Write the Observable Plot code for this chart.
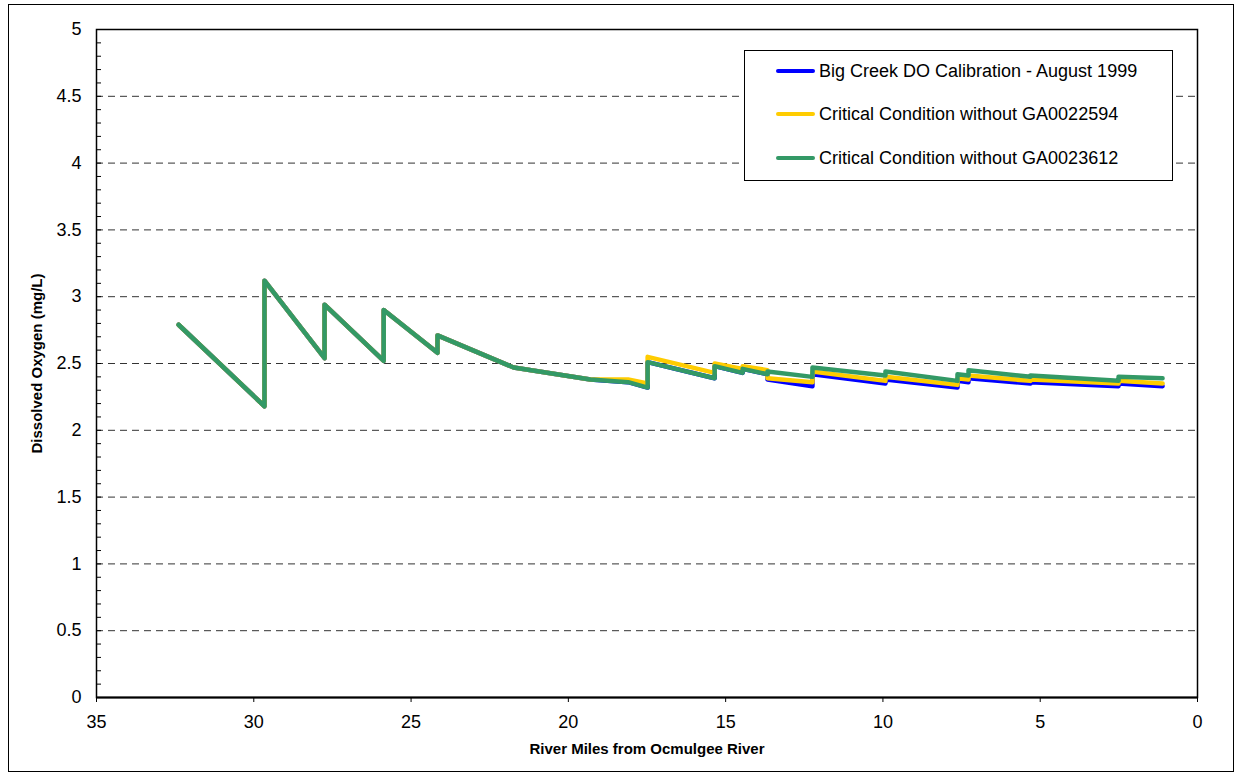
<!DOCTYPE html>
<html>
<head>
<meta charset="utf-8">
<script src="https://cdn.jsdelivr.net/npm/d3@7"></script>
<script src="https://cdn.jsdelivr.net/npm/@observablehq/plot@0.6"></script>
<style>
  html, body { margin: 0; padding: 0; background: #fff; }
  #wrap { position: relative; width: 1238px; height: 776px; overflow: hidden; font-family: "Liberation Sans", Arial, sans-serif; }
  #border { position: absolute; left: 8px; top: 4px; width: 1224px; height: 766px; border: 1.5px solid #000; pointer-events: none; }
  #legend { position: absolute; left: 744px; top: 50px; width: 427px; height: 129px; border: 1.5px solid #000; background: #fff; }
  .item { position: absolute; left: 31px; height: 22px; display: flex; align-items: center; font-size: 18px; color: #000; white-space: nowrap; }
  .sw { width: 39px; height: 4.5px; border-radius: 2px; margin-right: 4px; }
</style>
</head>
<body>
<div id="wrap">
  <div id="chart"></div>
  <div id="border"></div>
  <div id="legend"></div>
</div>
<script>
// Series names and colours
const seriesNames = [
  "Big Creek DO Calibration - August 1999",
  "Critical Condition without GA0022594",
  "Critical Condition without GA0023612"
];
const seriesColors = ["#0000FF", "#FFCC00", "#339966"];

// Calibration (blue)
const calMiles = [32.39, 29.66, 29.66, 27.75, 27.75, 25.87, 25.87, 24.16, 24.16, 21.74, 19.3, 18.1, 17.48, 17.48, 15.35, 15.35, 14.46, 14.46, 13.67, 13.67, 12.24, 12.24, 9.92, 9.92, 7.63, 7.63, 7.28, 7.28, 5.31, 5.31, 2.51, 2.51, 1.11];
const calDO    = [2.79, 2.18, 3.12, 2.54, 2.94, 2.52, 2.90, 2.58, 2.71, 2.47, 2.38, 2.36, 2.32, 2.51, 2.39, 2.48, 2.43, 2.46, 2.42, 2.38, 2.33, 2.42, 2.35, 2.38, 2.32, 2.37, 2.36, 2.39, 2.35, 2.36, 2.33, 2.35, 2.33];

// Critical condition without GA0022594 (yellow)
const ga22Miles = [32.39, 29.66, 29.66, 27.75, 27.75, 25.87, 25.87, 24.16, 24.16, 21.74, 19.3, 18.1, 17.48, 17.48, 15.35, 15.35, 14.46, 14.46, 13.67, 13.67, 12.24, 12.24, 9.92, 9.92, 7.63, 7.63, 7.28, 7.28, 5.31, 5.31, 2.51, 2.51, 1.11];
const ga22DO    = [2.79, 2.18, 3.12, 2.54, 2.94, 2.52, 2.90, 2.58, 2.71, 2.47, 2.38, 2.38, 2.35, 2.55, 2.43, 2.50, 2.46, 2.48, 2.45, 2.39, 2.36, 2.44, 2.37, 2.40, 2.34, 2.39, 2.38, 2.41, 2.37, 2.38, 2.35, 2.37, 2.35];

// Critical condition without GA0023612 (green)
const ga36Miles = [32.39, 29.66, 29.66, 27.75, 27.75, 25.87, 25.87, 24.16, 24.16, 21.74, 19.3, 18.1, 17.48, 17.48, 15.35, 15.35, 14.46, 14.46, 13.67, 13.67, 12.24, 12.24, 9.92, 9.92, 7.63, 7.63, 7.28, 7.28, 5.31, 5.31, 2.51, 2.51, 1.11];
const ga36DO    = [2.79, 2.18, 3.12, 2.54, 2.94, 2.52, 2.90, 2.58, 2.71, 2.47, 2.38, 2.36, 2.32, 2.51, 2.39, 2.48, 2.43, 2.46, 2.42, 2.44, 2.40, 2.47, 2.41, 2.44, 2.37, 2.42, 2.41, 2.45, 2.40, 2.41, 2.37, 2.40, 2.39];

// Axis ticks
const xTicks = [35, 30, 25, 20, 15, 10, 5, 0];
const yTicks = [0, 0.5, 1, 1.5, 2, 2.5, 3, 3.5, 4, 4.5, 5];
const yMinorTicks = d3.range(0, 51).map(i => i / 10);
const gridValues = [0.5, 1, 1.5, 2, 2.5, 3, 3.5, 4, 4.5];

const toRows = (miles, dos) => miles.map((m, i) => ({mile: m, DO: dos[i]}));
const cal = toRows(calMiles, calDO);
const ga22 = toRows(ga22Miles, ga22DO);
const ga36 = toRows(ga36Miles, ga36DO);

const lineOpts = {x: "mile", y: "DO", strokeWidth: 4.5, strokeLinecap: "round", strokeLinejoin: "round"};

const chart = Plot.plot({
  width: 1238,
  height: 776,
  marginLeft: 96,
  marginRight: 41,
  marginTop: 29,
  marginBottom: 79,
  style: {fontFamily: "'Liberation Sans', Arial, sans-serif", fontSize: "18px", color: "#000", background: "transparent", overflow: "visible"},
  x: {domain: [35, 0]},
  y: {domain: [0, 5]},
  marks: [
    Plot.ruleY(gridValues, {stroke: "#333", strokeWidth: 1, strokeDasharray: "7,5"}),
    Plot.axisY(yMinorTicks, {tickSize: 5, dx: 5, tickFormat: () => "", label: null, strokeWidth: 1}),
    Plot.axisY(yTicks, {tickSize: 0, tickPadding: 15, label: null, tickFormat: d => String(d), fill: "#000", fontSize: 18}),
    Plot.axisX(xTicks, {tickSize: 5, tickPadding: 13, label: null, tickFormat: d => String(d), fill: "#000", strokeWidth: 1, fontSize: 18}),
    Plot.line(cal, {...lineOpts, stroke: seriesColors[0]}),
    Plot.line(ga22, {...lineOpts, stroke: seriesColors[1]}),
    Plot.line(ga36, {...lineOpts, stroke: seriesColors[2]}),
    Plot.frame({stroke: "#000", strokeWidth: 1.5}),
    Plot.ruleY([0], {stroke: "#000", strokeWidth: 2.2}),
    Plot.text(["Dissolved Oxygen (mg/L)"], {frameAnchor: "left", textAnchor: "middle", dx: -59, rotate: -90, fontWeight: "bold", fontSize: 15, fill: "#000"}),
    Plot.text(["River Miles from Ocmulgee River"], {frameAnchor: "bottom", dy: 56, fontWeight: "bold", fontSize: 15, fill: "#000"})
  ]
});
document.getElementById("chart").appendChild(chart);

// Legend
const legend = document.getElementById("legend");
const legendTops = [9, 52, 96];
seriesNames.forEach((name, i) => {
  const item = document.createElement("div");
  item.className = "item";
  item.style.top = legendTops[i] + "px";
  const sw = document.createElement("div");
  sw.className = "sw";
  sw.style.background = seriesColors[i];
  item.appendChild(sw);
  const t = document.createElement("span");
  t.textContent = name;
  item.appendChild(t);
  legend.appendChild(item);
});
</script>
</body>
</html>
